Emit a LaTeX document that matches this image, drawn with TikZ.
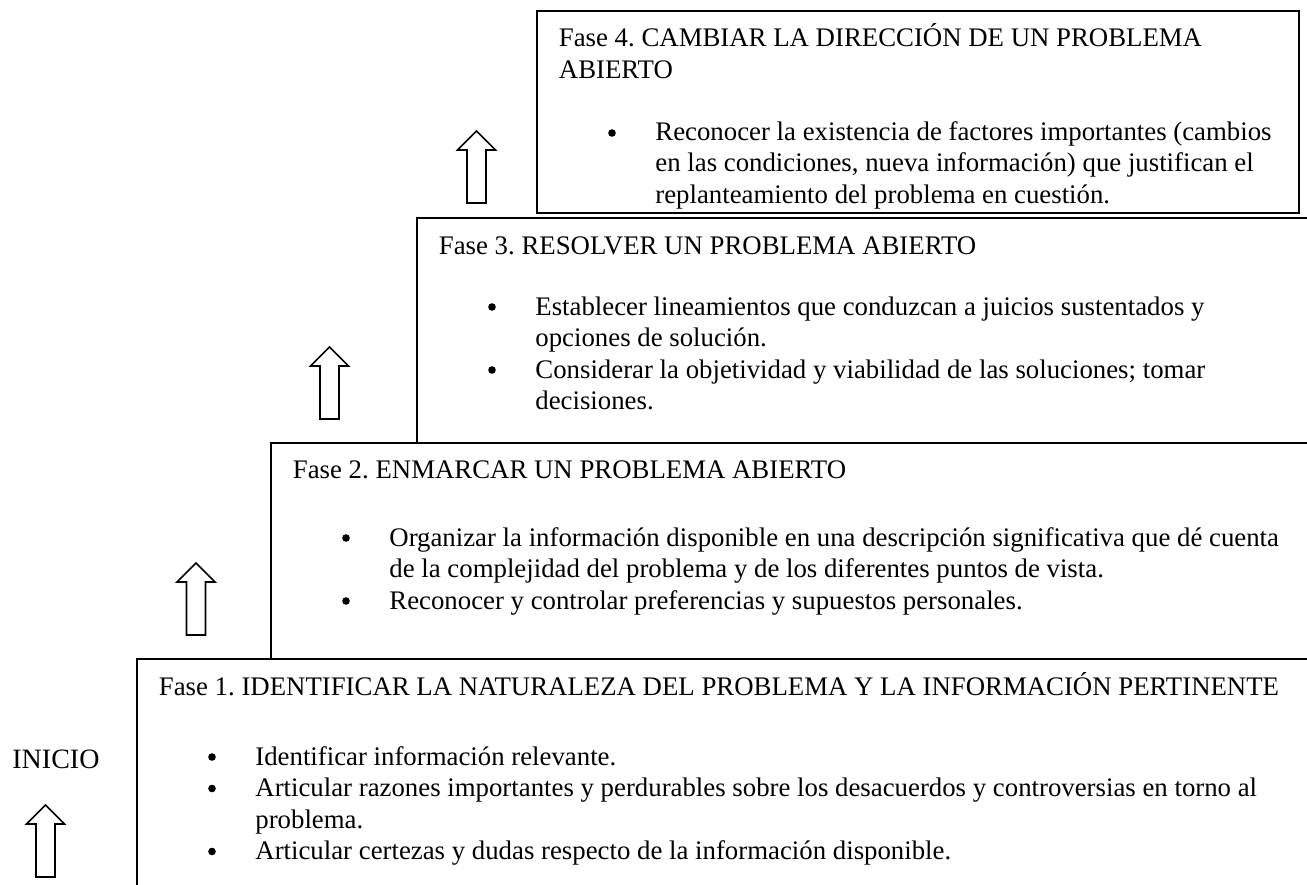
\documentclass[tikz,border=0pt]{standalone}
\usepackage{fontspec}
\setmainfont{Liberation Serif}

\begin{document}
\begin{tikzpicture}[x=0.5pt, y=-0.5pt,
    font=\fontsize{13.4}{15.75}\selectfont\frenchspacing,
    caja/.style={line width=1pt},
    flecha/.style={line width=0.8pt, line join=miter},
    titulo/.style={anchor=base west, inner sep=0pt, align=left},
    punto/.style={circle, fill, inner sep=0pt, minimum size=3.8pt},
    texto/.style={anchor=base west, inner sep=0pt, align=left}]
    \useasboundingbox (0,0) rectangle (1307,884);
    \clip (0,0) rectangle (1307,884);
    % flechas
    \foreach \cx/\by in {45.5/877, 196/635, 329.5/419, 476.5/203}
        \draw[flecha] (\cx-9.5,\by) -- ++(0,-53) -- ++(-9.5,0) -- (\cx,\by-72)
            -- (\cx+19,\by-53) -- ++(-9.5,0) -- (\cx+9.5,\by) -- cycle;
    \node[texto, font=\fontsize{14}{16}\selectfont] (inicio) at (12,768) {INICIO};
    % la base de un nodo de varias lineas es la de su ultima linea
    \begin{scope}[shift={(137,659)}]
        \draw[caja] (0,240) -- (0,0) -- (1180,0);
        \node[titulo] (f1) at (21.5,36) {Fase 1. IDENTIFICAR LA NATURALEZA DEL PROBLEMA Y LA INFORMACIÓN PERTINENTE};
        \node[punto] (f1p1) at (75,98) {};
        \node[texto] (f1i1) at (118,106) {Identificar información relevante.};
        \node[punto] (f1p2) at (75,129.5) {};
        \node[texto] (f1i2) at (118,169) {Articular razones importantes y perdurables sobre los desacuerdos y controversias en torno al\\problema.};
        \node[punto] (f1p3) at (75,192.5) {};
        \node[texto] (f1i3) at (118,200.5) {Articular certezas y dudas respecto de la información disponible.};
    \end{scope}
    \begin{scope}[shift={(271,443)}]
        \draw[caja] (0,216) -- (0,0) -- (1040,0);
        \node[titulo] (f2) at (21.5,35) {Fase 2. ENMARCAR UN PROBLEMA ABIERTO};
        \node[punto] (f2p1) at (75,95) {};
        \node[texto] (f2i1) at (118,134.5) {Organizar la información disponible en una descripción significativa que dé cuenta\\de la complejidad del problema y de los diferentes puntos de vista.};
        \node[punto] (f2p2) at (75,158) {};
        \node[texto] (f2i2) at (118,166) {Reconocer y controlar preferencias y supuestos personales.};
    \end{scope}
    \begin{scope}[shift={(417,218)}]
        \draw[caja] (900,0) -- (0,0) -- (0,225);
        \node[titulo] (f3) at (21.5,36) {Fase 3. RESOLVER UN PROBLEMA ABIERTO};
        \node[punto] (f3p1) at (75,89) {};
        \node[texto] (f3i1) at (118,128.5) {Establecer lineamientos que conduzcan a juicios sustentados y\\opciones de solución.};
        \node[punto] (f3p2) at (75,152) {};
        \node[texto] (f3i2) at (118,191.5) {Considerar la objetividad y viabilidad de las soluciones; tomar\\decisiones.};
    \end{scope}
    \begin{scope}[shift={(537,11)}]
        \draw[caja] (0,0) rectangle (762,202);
        \node[titulo] (f4) at (21.5,67) {Fase 4. CAMBIAR LA DIRECCIÓN DE UN PROBLEMA\\ABIERTO};
        \node[punto] (f4p1) at (75,122) {};
        \node[texto] (f4i1) at (118,192) {Reconocer la existencia de factores importantes (cambios\\en las condiciones, nueva información) que justifican el\\replanteamiento del problema en cuestión.};
    \end{scope}
\end{tikzpicture}
\end{document}
